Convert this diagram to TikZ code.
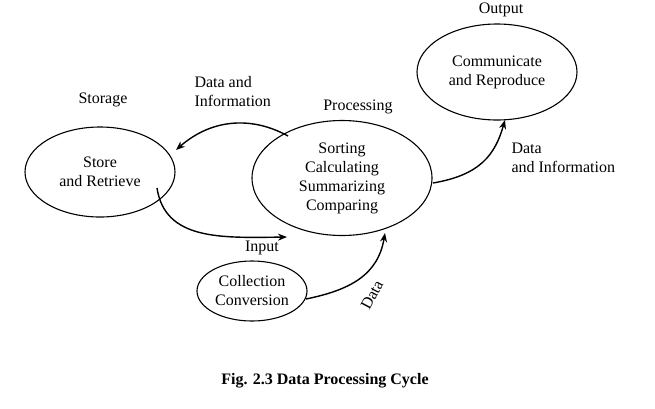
\documentclass[tikz,border=0pt]{standalone}
\usepackage{fontspec}
\setmainfont{Liberation Serif}
\usetikzlibrary{arrows.meta,shapes.geometric}
\begin{document}
\begin{tikzpicture}[x=1pt,y=-1pt,
  ell/.style={draw,line width=1.1pt,ellipse,inner sep=0pt,align=center,font=\fontsize{16}{19}\selectfont},
  lbl/.style={align=left,font=\fontsize{16}{19}\selectfont},
  arr/.style={line width=1.4pt,-{Stealth[length=9pt,width=7pt]}}]
\useasboundingbox[fill=white] (0,0) rectangle (655,408);
\node[ell,minimum width=150,minimum height=90] (st) at (100,172) {Store\\and Retrieve};
\node[ell,minimum width=180,minimum height=115] (pr) at (342,178) {Sorting\\Calculating\\Summarizing\\Comparing};
\node[ell,minimum width=160,minimum height=96] (out) at (497,72) {Communicate\\and Reproduce};
\node[ell,minimum width=110,minimum height=60] (col) at (252,291) {Collection\\Conversion};
\node[lbl] (t1) at (501,10) {Output};
\node[lbl] (t2) at (103,100) {Storage};
\node[lbl,anchor=west] (t3) at (191,92) {Data and\\Information};
\node[lbl] (t4) at (358,107) {Processing};
\node[lbl,anchor=west] (t5) at (508,158) {Data\\and Information};
\node[lbl] (t6) at (262,248) {Input};
\node[lbl,rotate=62,inner sep=0pt] (t7) at (372,295) {Data};
\node[font=\bfseries\fontsize{16}{18}\selectfont] (cap) at (325,381) {Fig. 2.3 Data Processing Cycle};
\coordinate (a1) at (288,136);
\coordinate (a2) at (176,150);
\draw[arr] (a1) .. controls (250,115) and (210,120) .. (a2);
\coordinate (b1) at (157,188);
\coordinate (b2) at (287,237);
\draw[arr] (b1) .. controls (165,240) and (220,238) .. (b2);
\coordinate (c1) at (306,299);
\coordinate (c2) at (385,233);
\draw[arr] (c1) .. controls (350,290) and (378,275) .. (c2);
\coordinate (d1) at (433,183);
\coordinate (d2) at (505,120);
\draw[arr] (d1) .. controls (480,175) and (495,155) .. (d2);
\end{tikzpicture}
\end{document}
